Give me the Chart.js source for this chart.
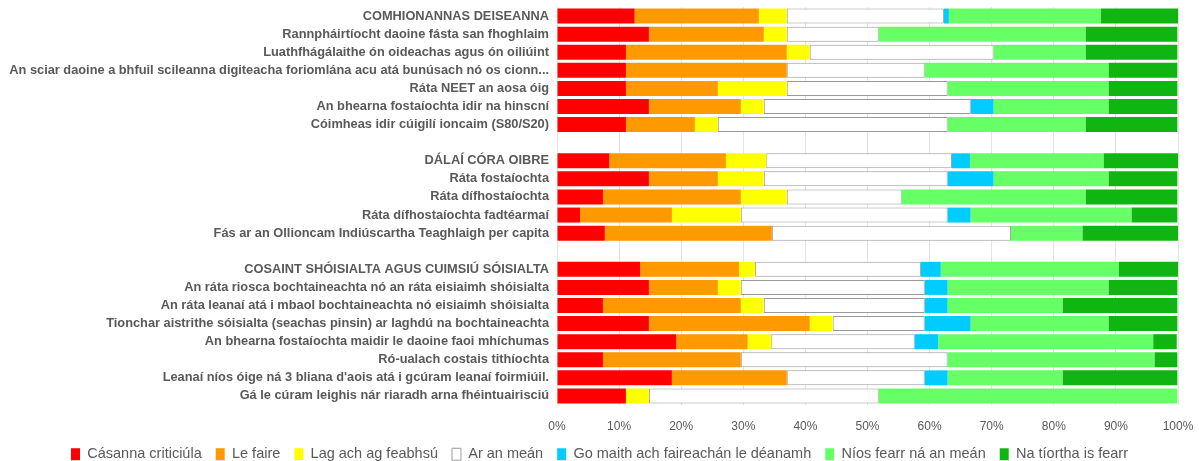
<!DOCTYPE html>
<html>
<head>
<meta charset="utf-8">
<script src="https://cdn.jsdelivr.net/npm/chart.js@4.4.1/dist/chart.umd.min.js"></script>
<style>
  html, body { margin: 0; padding: 0; background: #fff; }
  #wrap { width: 1199px; height: 461px; }
</style>
</head>
<body>
<div id="wrap"><canvas id="chart" width="1199" height="461"></canvas></div>
<script>
const labels = [
  "COMHIONANNAS DEISEANNA",
  "Rannpháirtíocht daoine fásta san fhoghlaim",
  "Luathfhágálaithe ón oideachas agus ón oiliúint",
  "An sciar daoine a bhfuil scileanna digiteacha foriomlána acu atá bunúsach nó os cionn...",
  "Ráta NEET an aosa óig",
  "An bhearna fostaíochta idir na hinscní",
  "Cóimheas idir cúigilí ioncaim (S80/S20)",
  "",
  "DÁLAÍ CÓRA OIBRE",
  "Ráta fostaíochta",
  "Ráta dífhostaíochta",
  "Ráta dífhostaíochta fadtéarmaí",
  "Fás ar an Ollioncam Indiúscartha Teaghlaigh per capita",
  "",
  "COSAINT SHÓISIALTA AGUS CUIMSIÚ SÓISIALTA",
  "An ráta riosca bochtaineachta nó an ráta eisiaimh shóisialta",
  "An ráta leanaí atá i mbaol bochtaineachta nó eisiaimh shóisialta",
  "Tionchar aistrithe sóisialta (seachas pinsin) ar laghdú na bochtaineachta",
  "An bhearna fostaíochta maidir le daoine faoi mhíchumas",
  "Ró-ualach costais tithíochta",
  "Leanaí níos óige ná 3 bliana d'aois atá i gcúram leanaí foirmiúil.",
  "Gá le cúram leighis nár riaradh arna fhéintuairisciú"
];

const seriesNames = ["Cásanna criticiúla", "Le faire", "Lag ach ag feabhsú", "Ar an meán",
  "Go maith ach faireachán le déanamh", "Níos fearr ná an meán", "Na tíortha is fearr"];

// share of countries, in %
const critical  = [12.5, 14.8, 11.1, 11.1, 11.1, 14.8, 11.1, null, 8.4, 14.8, 7.4, 3.7, 7.7, null, 13.4, 14.8, 7.4, 14.8, 19.2, 7.4, 18.5, 11.1];
const watch     = [20.0, 18.5, 25.9, 25.9, 14.8, 14.8, 11.1, null, 18.8, 11.1, 22.2, 14.8, 26.9, null, 15.9, 11.1, 22.2, 25.9, 11.5, 22.2, 18.5, 0];
const weakImpr  = [4.5, 3.7, 3.7, 0, 11.1, 3.7, 3.7, null, 6.5, 7.4, 7.4, 11.1, 0, null, 2.6, 3.7, 3.7, 3.7, 3.8, 0, 0, 3.7];
const average   = [25.3, 14.8, 29.6, 22.2, 25.9, 33.3, 37.0, null, 29.9, 29.6, 18.5, 33.3, 38.5, null, 26.7, 29.6, 25.9, 14.8, 23.1, 33.3, 22.2, 37.0];
const goodWatch = [0.8, 0, 0, 0, 0, 3.7, 0, null, 2.9, 7.4, 0, 3.7, 0, null, 3.2, 3.7, 3.7, 7.4, 3.8, 0, 3.7, 0];
const better    = [24.5, 33.3, 14.8, 29.6, 25.9, 18.5, 22.2, null, 21.5, 18.5, 29.6, 25.9, 11.5, null, 28.7, 25.9, 18.5, 22.2, 34.6, 33.3, 18.5, 48.1];
const best      = [12.4, 14.8, 14.8, 11.1, 11.1, 11.1, 14.8, null, 12.0, 11.1, 14.8, 7.4, 15.4, null, 9.5, 11.1, 18.5, 11.1, 3.8, 3.7, 18.5, 0];

const xTicks = ["0%", "10%", "20%", "30%", "40%", "50%", "60%", "70%", "80%", "90%", "100%"];

const colors = ["#ff0000", "#ff9900", "#ffff00", "#ffffff", "#00ccff", "#66ff66", "#11b511"];
const values = [critical, watch, weakImpr, average, goodWatch, better, best];

const textColor = "#595959";
const family = "'Liberation Sans', Arial, sans-serif";

const datasets = values.map((v, i) => ({
  label: seriesNames[i],
  data: v,
  backgroundColor: colors[i],
  borderColor: i === 3 ? "#9a9a9a" : colors[i],
  borderWidth: i === 3 ? 1 : 0,
  borderSkipped: false,
  categoryPercentage: 1,
  barPercentage: 0.83
}));

new Chart(document.getElementById("chart").getContext("2d"), {
  type: "bar",
  data: { labels: labels, datasets: datasets },
  options: {
    indexAxis: "y",
    responsive: false,
    animation: false,
    layout: { padding: { left: 0, right: 0, top: 7, bottom: 0 } },
    scales: {
      x: {
        stacked: true,
        min: 0,
        max: 100,
        grid: { color: "#e3e3e3", drawTicks: false },
        border: { display: false },
        ticks: {
          stepSize: 10,
          padding: 14,
          color: textColor,
          font: { family: family, size: 12 },
          callback: (v, i) => xTicks[i]
        },
        afterFit: (scale) => { scale.height = 28; scale.paddingLeft = 0; scale.paddingRight = 21; }
      },
      y: {
        stacked: true,
        grid: { display: false, drawTicks: false },
        border: { display: false },
        ticks: { autoSkip: false, color: textColor, font: { family: family, size: 12.8, weight: "bold" }, padding: 8 },
        afterFit: (scale) => { scale.width = 557; scale.paddingTop = 0; scale.paddingBottom = 0; }
      }
    },
    plugins: {
      tooltip: { enabled: false },
      legend: {
        position: "bottom",
        maxHeight: 28,
        labels: {
          color: textColor,
          font: { family: family, size: 14.5 },
          boxWidth: 9,
          boxHeight: 12,
          padding: 14
        }
      }
    }
  }
});
</script>
</body>
</html>
